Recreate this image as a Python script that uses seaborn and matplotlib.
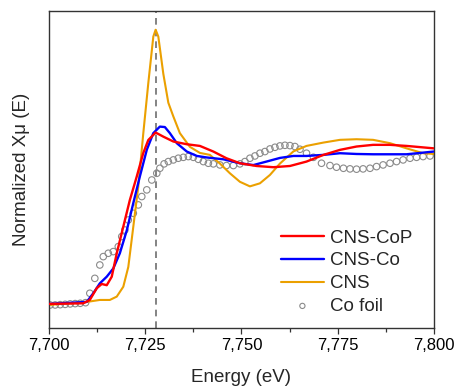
import matplotlib
matplotlib.use("Agg")
import matplotlib.pyplot as plt
import seaborn as sns
import numpy as np
import pandas as pd
from matplotlib.ticker import MultipleLocator

# ---------------- data ----------------
cns_cop_E = [7700.0, 7708.9, 7710.6, 7712.4, 7713.7, 7715.0, 7716.3, 7717.6, 7719.3, 7721.0,
             7722.8, 7724.5, 7725.8, 7727.7, 7729.7, 7732.3, 7735.8, 7739.2, 7742.7, 7746.1,
             7749.6, 7753.9, 7758.3, 7762.6, 7766.9, 7771.3, 7775.6, 7779.9, 7784.2, 7788.6,
             7792.9, 7800.0]
cns_cop_mu = [0.007, 0.011, 0.033, 0.110, 0.138, 0.130, 0.186, 0.340, 0.515, 0.690,
              0.845, 1.000, 1.085, 1.134, 1.107, 1.075, 1.057, 1.046, 1.009, 0.965,
              0.932, 0.914, 0.906, 0.914, 0.943, 0.987, 1.020, 1.042, 1.053, 1.053,
              1.046, 1.030]

cns_co_E = [7700.0, 7709.8, 7711.5, 7713.2, 7715.0, 7716.7, 7718.4, 7720.2, 7721.9, 7723.6,
            7725.4, 7727.1, 7728.8, 7730.1, 7731.4, 7733.2, 7735.8, 7738.4, 7741.0, 7745.3,
            7749.6, 7753.1, 7756.5, 7760.0, 7763.5, 7766.9, 7771.3, 7775.6, 7779.9, 7784.2,
            7792.9, 7800.0]
cns_co_mu = [0.007, 0.020, 0.077, 0.142, 0.186, 0.240, 0.340, 0.490, 0.670, 0.845,
             1.020, 1.130, 1.173, 1.170, 1.130, 1.064, 1.009, 0.980, 0.970, 0.958,
             0.932, 0.920, 0.943, 0.967, 0.980, 0.980, 0.987, 0.998, 0.993, 0.991,
             0.991, 1.009]

cns_E = [7700.0, 7709.8, 7713.2, 7715.8, 7717.6, 7719.3, 7720.6, 7721.9, 7723.2, 7724.5,
         7725.8, 7727.1, 7727.7, 7728.4, 7729.7, 7731.0, 7732.3, 7734.0, 7736.6, 7739.2,
         7741.8, 7744.4, 7747.0, 7749.6, 7752.2, 7754.8, 7757.4, 7760.0, 7763.5, 7766.9,
         7771.3, 7775.6, 7779.9, 7784.2, 7788.6, 7792.9, 7797.2, 7800.0]
cns_mu = [0.000, 0.020, 0.033, 0.033, 0.055, 0.120, 0.250, 0.515, 0.780, 1.130,
          1.460, 1.765, 1.810, 1.765, 1.520, 1.330, 1.240, 1.130, 1.040, 1.000,
          0.987, 0.930, 0.866, 0.810, 0.780, 0.800, 0.855, 0.930, 1.010, 1.046,
          1.068, 1.086, 1.090, 1.086, 1.064, 1.030, 0.998, 0.993]

cofoil_E = [7700.3, 7701.6, 7702.9, 7704.2, 7705.5, 7706.8, 7708.1, 7709.5, 7710.6, 7711.9,
            7713.2, 7714.1, 7715.4, 7716.7, 7718.0, 7718.9, 7719.7, 7720.6, 7721.9, 7723.2,
            7724.1, 7725.4, 7726.7, 7728.0, 7728.8, 7729.9, 7731.0, 7732.3, 7733.6, 7734.9,
            7736.2, 7737.5, 7738.8, 7740.1, 7741.4, 7742.7, 7744.4, 7746.1, 7747.9, 7749.6,
            7750.9, 7752.2, 7753.5, 7754.8, 7756.1, 7757.4, 7758.7, 7760.0, 7761.3, 7762.6,
            7763.9, 7765.2, 7766.9, 7768.7, 7770.8, 7773.0, 7774.7, 7776.5, 7778.2, 7779.9,
            7781.6, 7783.4, 7785.1, 7786.8, 7788.6, 7790.3, 7792.0, 7793.8, 7795.5, 7797.2,
            7799.0]
cofoil_mu = [0.000, 0.000, 0.002, 0.004, 0.007, 0.009, 0.011, 0.015, 0.077, 0.175,
             0.263, 0.318, 0.340, 0.351, 0.384, 0.450, 0.493, 0.559, 0.603, 0.658,
             0.713, 0.757, 0.822, 0.866, 0.899, 0.928, 0.943, 0.954, 0.965, 0.971,
             0.976, 0.971, 0.958, 0.943, 0.932, 0.928, 0.921, 0.917, 0.917, 0.928,
             0.943, 0.965, 0.980, 0.998, 1.009, 1.026, 1.037, 1.046, 1.050, 1.048,
             1.042, 1.024, 0.998, 0.971, 0.932, 0.917, 0.906, 0.899, 0.895, 0.893,
             0.895, 0.899, 0.910, 0.921, 0.932, 0.943, 0.954, 0.965, 0.971, 0.976,
             0.980]

edge_energy = 7727.7
x_ticks = [7700, 7725, 7750, 7775, 7800]
x_tick_labels = ["7,700", "7,725", "7,750", "7,775", "7,800"]

# ---------------- style ----------------
sns.set_theme(style="ticks")
plt.rcParams['font.family'] = ['Liberation Sans', 'DejaVu Sans']

fig = plt.figure(figsize=(4.56, 3.89), dpi=100)
ax = fig.add_axes([0.1075, 0.157, 0.844, 0.815])

sns.lineplot(x=cns_cop_E, y=cns_cop_mu, ax=ax, color="#FF0000", lw=1.7, sort=False,
             label="CNS-CoP", zorder=4)
sns.lineplot(x=cns_co_E, y=cns_co_mu, ax=ax, color="#0000FF", lw=1.7, sort=False,
             label="CNS-Co", zorder=3)
sns.lineplot(x=cns_E, y=cns_mu, ax=ax, color="#EBA000", lw=1.5, sort=False,
             label="CNS", zorder=2)
sns.scatterplot(x=cofoil_E, y=cofoil_mu, ax=ax, marker="o", s=22,
                facecolors="none", edgecolors="#8A8A8A", linewidths=0.8,
                label="Co foil", zorder=1)

ax.axvline(edge_energy, color="#6E6E6E", lw=1.2, ls=(0, (4, 3)), zorder=0)

ax.set_xlim(7700, 7800)
ax.set_ylim(-0.151, 1.934)
ax.set_xticks(x_ticks)
ax.set_xticklabels(x_tick_labels)
ax.xaxis.set_minor_locator(MultipleLocator(12.5))
ax.set_yticks([])
ax.tick_params(axis="x", which="major", direction="out", length=4, width=0.9,
               labelsize=12, colors="#333333", labelcolor="black")
ax.tick_params(axis="x", which="minor", direction="out", length=3, width=0.9,
               colors="#333333")

for s in ax.spines.values():
    s.set_visible(True)
    s.set_color("#333333")
    s.set_linewidth(1.0)

ax.set_xlabel("Energy (eV)", fontsize=13.5, labelpad=11)
ax.set_ylabel("Normalized Xμ (E)", fontsize=13.5, labelpad=14)

leg = ax.legend(loc="lower right", bbox_to_anchor=(0.982, -0.006), frameon=False,
                fontsize=13.5, handlelength=2.3, handletextpad=0.3, labelspacing=0.3,
                borderaxespad=0.4, scatterpoints=1, markerscale=0.8)

fig.savefig("out.png", dpi=100)
